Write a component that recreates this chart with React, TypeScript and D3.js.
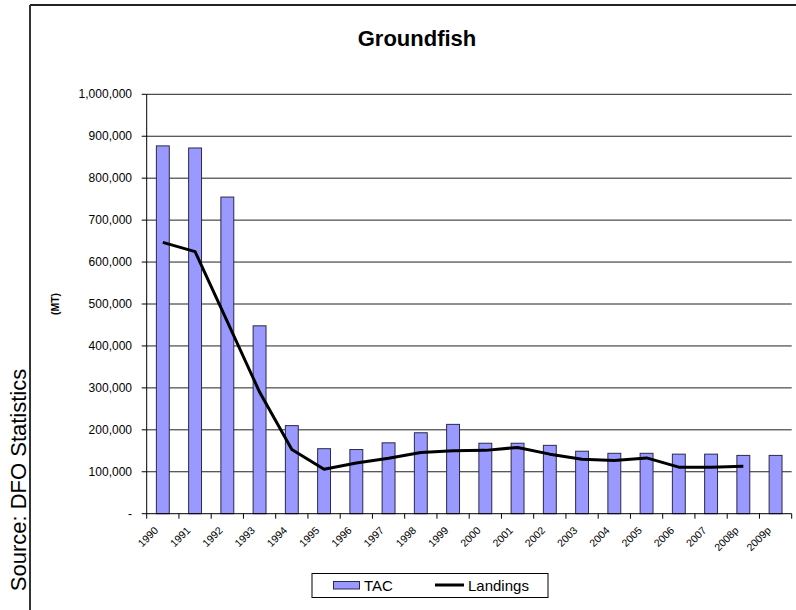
import React from "react";
import * as d3 from "d3";

const categories = ["1990","1991","1992","1993","1994","1995","1996","1997","1998","1999","2000","2001","2002","2003","2004","2005","2006","2007","2008p","2009p"];
const tacValues = [877000,872000,755000,448000,210000,155000,153000,169000,193000,213000,168000,168000,163000,149000,144000,144000,142000,142000,139000,139000];
const landingsValues: (number | null)[] = [647000,625000,458000,290000,153000,106000,121000,132000,146000,150000,151000,158000,142000,130000,127000,133000,111000,111000,113000,null];
const yTicks = [0,100000,200000,300000,400000,500000,600000,700000,800000,900000,1000000];

const W = 796, H = 610;
const left = 146.7, right = 791.7, top = 94.3, bottom = 513.7;
const font = "Arial, 'Liberation Sans', Helvetica, sans-serif";

export default function App() {
  const x = d3.scaleBand<string>().domain(categories).range([left, right]).paddingInner(0.6).paddingOuter(0.3);
  const y = d3.scaleLinear().domain([0, 1000000]).range([bottom, top]);
  const fmt = d3.format(",");
  const step = x.step();
  const bw = x.bandwidth();
  const lineGen = d3.line<[string, number | null]>()
    .defined(d => d[1] != null)
    .x(d => (x(d[0]) as number) + bw / 2)
    .y(d => y(d[1] as number));
  const pts: [string, number | null][] = categories.map((c, i) => [c, landingsValues[i]]);

  return (
    <svg width={W} height={H} style={{ position: "absolute", left: 0, top: 0, background: "#fff" }} fontFamily={font}>
      <rect x={0} y={0} width={W} height={H} fill="#fff" />
      {/* frame */}
      <line x1={30} y1={5} x2={W} y2={5} stroke="#222" strokeWidth={2} />
      <line x1={30} y1={5} x2={30} y2={H} stroke="#333" strokeWidth={2} />
      {/* title */}
      <text x={417} y={46} textAnchor="middle" fontSize={22} fontWeight="bold" fill="#000">Groundfish</text>
      {/* source */}
      <text transform={`translate(26,480) rotate(-90)`} textAnchor="middle" fontSize={22} fill="#000">Source: DFO Statistics</text>
      {/* y label */}
      <text transform={`translate(59,304) rotate(-90)`} textAnchor="middle" fontSize={10.5} fontWeight="bold" fill="#000">(MT)</text>
      {/* gridlines */}
      {yTicks.filter(t => t > 0).map(t => (
        <line key={"g" + t} x1={left} x2={right} y1={y(t)} y2={y(t)} stroke="#222" strokeWidth={1} />
      ))}
      {/* y ticks & labels */}
      {yTicks.map(t => (
        <g key={"yt" + t}>
          <line x1={left - 5} x2={left} y1={y(t)} y2={y(t)} stroke="#000" />
          <text x={132} y={y(t) + 4} textAnchor="end" fontSize={12} fill="#000">{t === 0 ? "-" : fmt(t)}</text>
        </g>
      ))}
      {/* bars */}
      {categories.map((c, i) => (
        <rect key={"b" + c} x={x(c)} y={y(tacValues[i])} width={bw} height={bottom - y(tacValues[i])} fill="#9999FF" stroke="#2a2a4a" strokeWidth={1} />
      ))}
      {/* axes */}
      <line x1={left} x2={left} y1={top} y2={bottom} stroke="#000" strokeWidth={1} />
      <line x1={left} x2={right} y1={bottom} y2={bottom} stroke="#000" strokeWidth={1} />
      {d3.range(categories.length + 1).map(i => (
        <line key={"xt" + i} x1={left + i * step} x2={left + i * step} y1={bottom} y2={bottom + 5} stroke="#000" />
      ))}
      {categories.map(c => {
        const cx = (x(c) as number) + bw / 2 - 4;
        return (
          <text key={"xl" + c} transform={`translate(${cx},531) rotate(-45)`} textAnchor="end" fontSize={10.5} fill="#000">{c}</text>
        );
      })}
      {/* line */}
      <path d={lineGen(pts) || ""} fill="none" stroke="#000" strokeWidth={3} strokeLinejoin="round" />
      {/* legend */}
      <rect x={312} y={573.5} width={236} height={24} fill="#fff" stroke="#000" strokeWidth={1} />
      <rect x={333.5} y={581.5} width={26} height={7.5} fill="#9999FF" stroke="#2a2a4a" strokeWidth={1} />
      <text x={364} y={591} fontSize={15} fill="#000">TAC</text>
      <line x1={435} x2={464} y1={585} y2={585} stroke="#000" strokeWidth={3} />
      <text x={468} y={591} fontSize={15} fill="#000">Landings</text>
    </svg>
  );
}
